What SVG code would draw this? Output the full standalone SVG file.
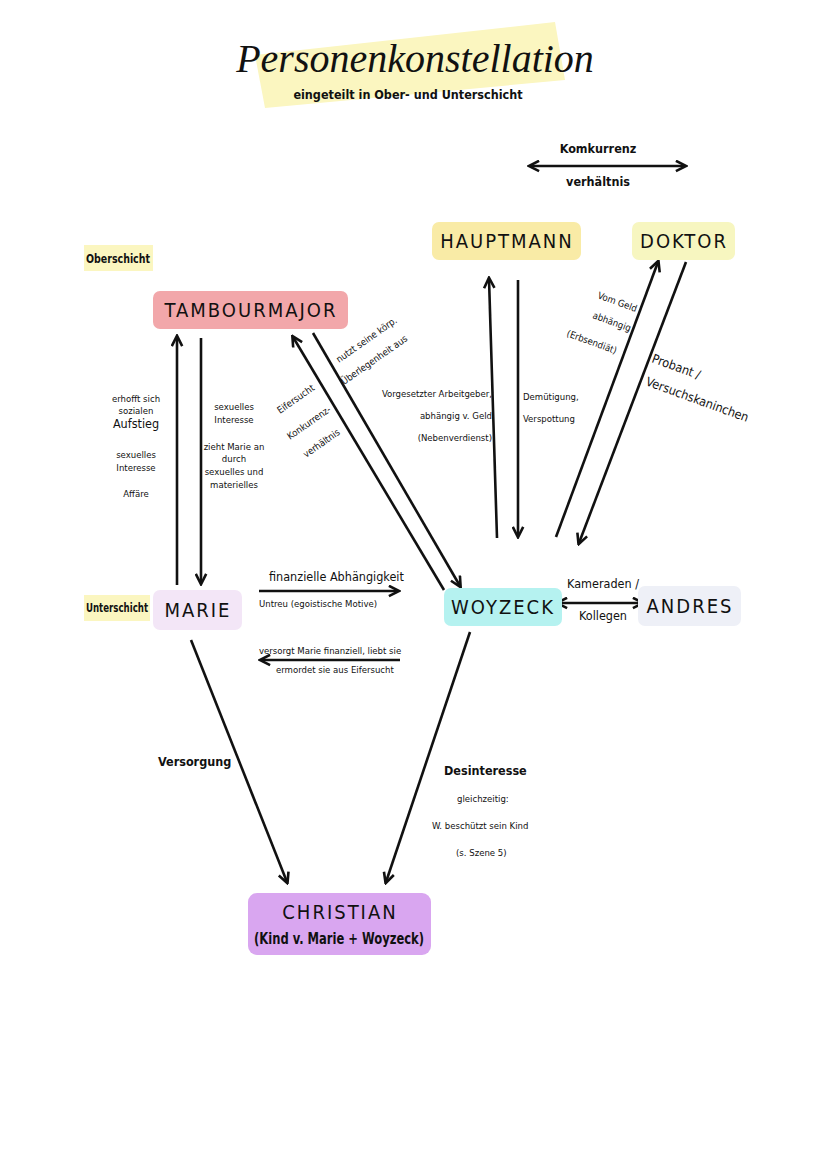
<svg xmlns="http://www.w3.org/2000/svg" width="828" height="1171" viewBox="0 0 828 1171">
<defs>
<marker id="ah" viewBox="0 0 10 10" refX="8" refY="5" markerWidth="5" markerHeight="5" orient="auto-start-reverse"><path d="M1,1 L9,5 L1,9" fill="none" stroke="#111" stroke-width="2"/></marker>
<style>
.t{font-family:"DejaVu Sans Condensed","Liberation Sans",sans-serif;fill:#111}
.s{font-size:9.5px}
.m{font-size:12.5px}
.n{font-family:"DejaVu Sans Condensed","Liberation Sans",sans-serif;font-size:20px;letter-spacing:2px;fill:#111;text-anchor:middle}
.c{stroke:#111;stroke-width:2.6;fill:none}
</style>
</defs>
<rect width="828" height="1171" fill="#fff"/>
<path d="M255,55 L555,22 L565,80 L265,108 Z" fill="#fbf6c0"/>
<text x="415" y="72" text-anchor="middle" font-family="Liberation Serif,serif" font-style="italic" font-size="40" fill="#111">Personenkonstellation</text>
<text x="408" y="99" text-anchor="middle" class="t m" font-weight="bold">eingeteilt in Ober- und Unterschicht</text>
<text x="598" y="153" text-anchor="middle" class="t m" font-weight="bold">Komkurrenz</text>
<text x="598" y="186" text-anchor="middle" class="t m" font-weight="bold">verhältnis</text>
<rect x="84" y="245" width="69" height="26" fill="#fbf6c0"/>
<text x="86" y="263" class="t m" font-weight="bold" textLength="64" lengthAdjust="spacingAndGlyphs">Oberschicht</text>
<rect x="84" y="595" width="66" height="26" fill="#fbf6c0"/>
<text x="86" y="612" class="t m" font-weight="bold" textLength="62" lengthAdjust="spacingAndGlyphs">Unterschicht</text>
<g id="conn">
<line class="c" x1="530" y1="166" x2="685" y2="166" marker-start="url(#ah)" marker-end="url(#ah)"/>
<line class="c" x1="177" y1="585" x2="177" y2="337" marker-end="url(#ah)"/>
<line class="c" x1="201" y1="338" x2="201" y2="583" marker-end="url(#ah)"/>
<line class="c" x1="444" y1="590" x2="293" y2="337" marker-end="url(#ah)"/>
<line class="c" x1="313" y1="333" x2="460" y2="586" marker-end="url(#ah)"/>
<line class="c" x1="497" y1="538" x2="489" y2="279" marker-end="url(#ah)"/>
<line class="c" x1="518" y1="280" x2="518" y2="536" marker-end="url(#ah)"/>
<line class="c" x1="556" y1="537" x2="658" y2="262" marker-end="url(#ah)"/>
<line class="c" x1="686" y1="262" x2="579" y2="543" marker-end="url(#ah)"/>
<line class="c" x1="558" y1="603" x2="642" y2="603" marker-start="url(#ah)" marker-end="url(#ah)"/>
<line class="c" x1="259" y1="591" x2="398" y2="591" marker-end="url(#ah)"/>
<line class="c" x1="400" y1="660" x2="261" y2="660" marker-end="url(#ah)"/>
<line class="c" x1="191" y1="640" x2="287" y2="882" marker-end="url(#ah)"/>
<line class="c" x1="470" y1="632" x2="386" y2="882" marker-end="url(#ah)"/>
</g>
<g id="hauptmann"><rect x="432" y="222" width="149" height="38" rx="7" fill="#f9eba6"/><text x="507" y="248" class="n">HAUPTMANN</text></g>
<g id="doktor"><rect x="632" y="222" width="103" height="38" rx="7" fill="#f7f6c0"/><text x="684" y="248" class="n">DOKTOR</text></g>
<g id="tambourmajor"><rect x="153" y="291" width="195" height="38" rx="7" fill="#f2a7aa"/><text x="251" y="317" class="n">TAMBOURMAJOR</text></g>
<g id="marie"><rect x="153" y="590" width="89" height="40" rx="7" fill="#f3e6f7"/><text x="198" y="617" class="n">MARIE</text></g>
<g id="woyzeck"><rect x="444" y="588" width="118" height="38" rx="7" fill="#b5f2f0"/><text x="503" y="614" class="n">WOYZECK</text></g>
<g id="andres"><rect x="638" y="586" width="103" height="40" rx="7" fill="#eef0f7"/><text x="690" y="613" class="n">ANDRES</text></g>
<g id="christian"><rect x="248" y="893" width="183" height="62" rx="9" fill="#d9a6f0"/><text x="340" y="919" class="n">CHRISTIAN</text><text x="339" y="944" text-anchor="middle" class="t" font-size="16" font-weight="bold" textLength="170" lengthAdjust="spacingAndGlyphs">(Kind v. Marie + Woyzeck)</text></g>
<g class="t s" text-anchor="middle">
<text x="136" y="402">erhofft sich</text><text x="136" y="414">sozialen</text><text x="136" y="428" class="m">Aufstieg</text>
<text x="136" y="458">sexuelles</text><text x="136" y="471">Interesse</text><text x="136" y="497">Affäre</text>
<text x="234" y="410">sexuelles</text><text x="234" y="423">Interesse</text>
<text x="234" y="450">zieht Marie an</text><text x="234" y="462">durch</text><text x="234" y="475">sexuelles und</text><text x="234" y="488">materielles</text>
</g>
<g class="t s">
<text transform="translate(280,414) rotate(-35)">Eifersucht</text>
<text transform="translate(290,440) rotate(-35)">Konkurrenz-</text>
<text transform="translate(306,458) rotate(-35)">verhältnis</text>
<text transform="translate(339,363) rotate(-35)">nutzt seine körp.</text>
<text transform="translate(344,385) rotate(-35)">Überlegenheit aus</text>
<text x="492" y="397" text-anchor="end">Vorgesetzter Arbeitgeber,</text>
<text x="492" y="419" text-anchor="end">abhängig v. Geld</text>
<text x="492" y="441" text-anchor="end">(Nebenverdienst)</text>
<text x="523" y="400">Demütigung,</text><text x="523" y="422">Verspottung</text>
<text transform="translate(597,298) rotate(20)">Vom Geld</text>
<text transform="translate(592,318) rotate(20)">abhängig</text>
<text transform="translate(566,336) rotate(20)">(Erbsendiät)</text>
<text transform="translate(651,362) rotate(20)" class="m">Probant /</text>
<text transform="translate(645,385) rotate(20)" class="m">Versuchskaninchen</text>
<text x="269" y="581" class="m">finanzielle Abhängigkeit</text>
<text x="259" y="607">Untreu (egoistische Motive)</text>
<text x="259" y="654">versorgt Marie finanziell, liebt sie</text>
<text x="276" y="673">ermordet sie aus Eifersucht</text>
<text x="567" y="588" class="m">Kameraden /</text><text x="579" y="620" class="m">Kollegen</text>
<text x="158" y="766" class="m" font-weight="bold">Versorgung</text>
<text x="444" y="775" class="m" font-weight="bold">Desinteresse</text>
<text x="457" y="802">gleichzeitig:</text>
<text x="432" y="829">W. beschützt sein Kind</text>
<text x="456" y="856">(s. Szene 5)</text>
</g>
</svg>
